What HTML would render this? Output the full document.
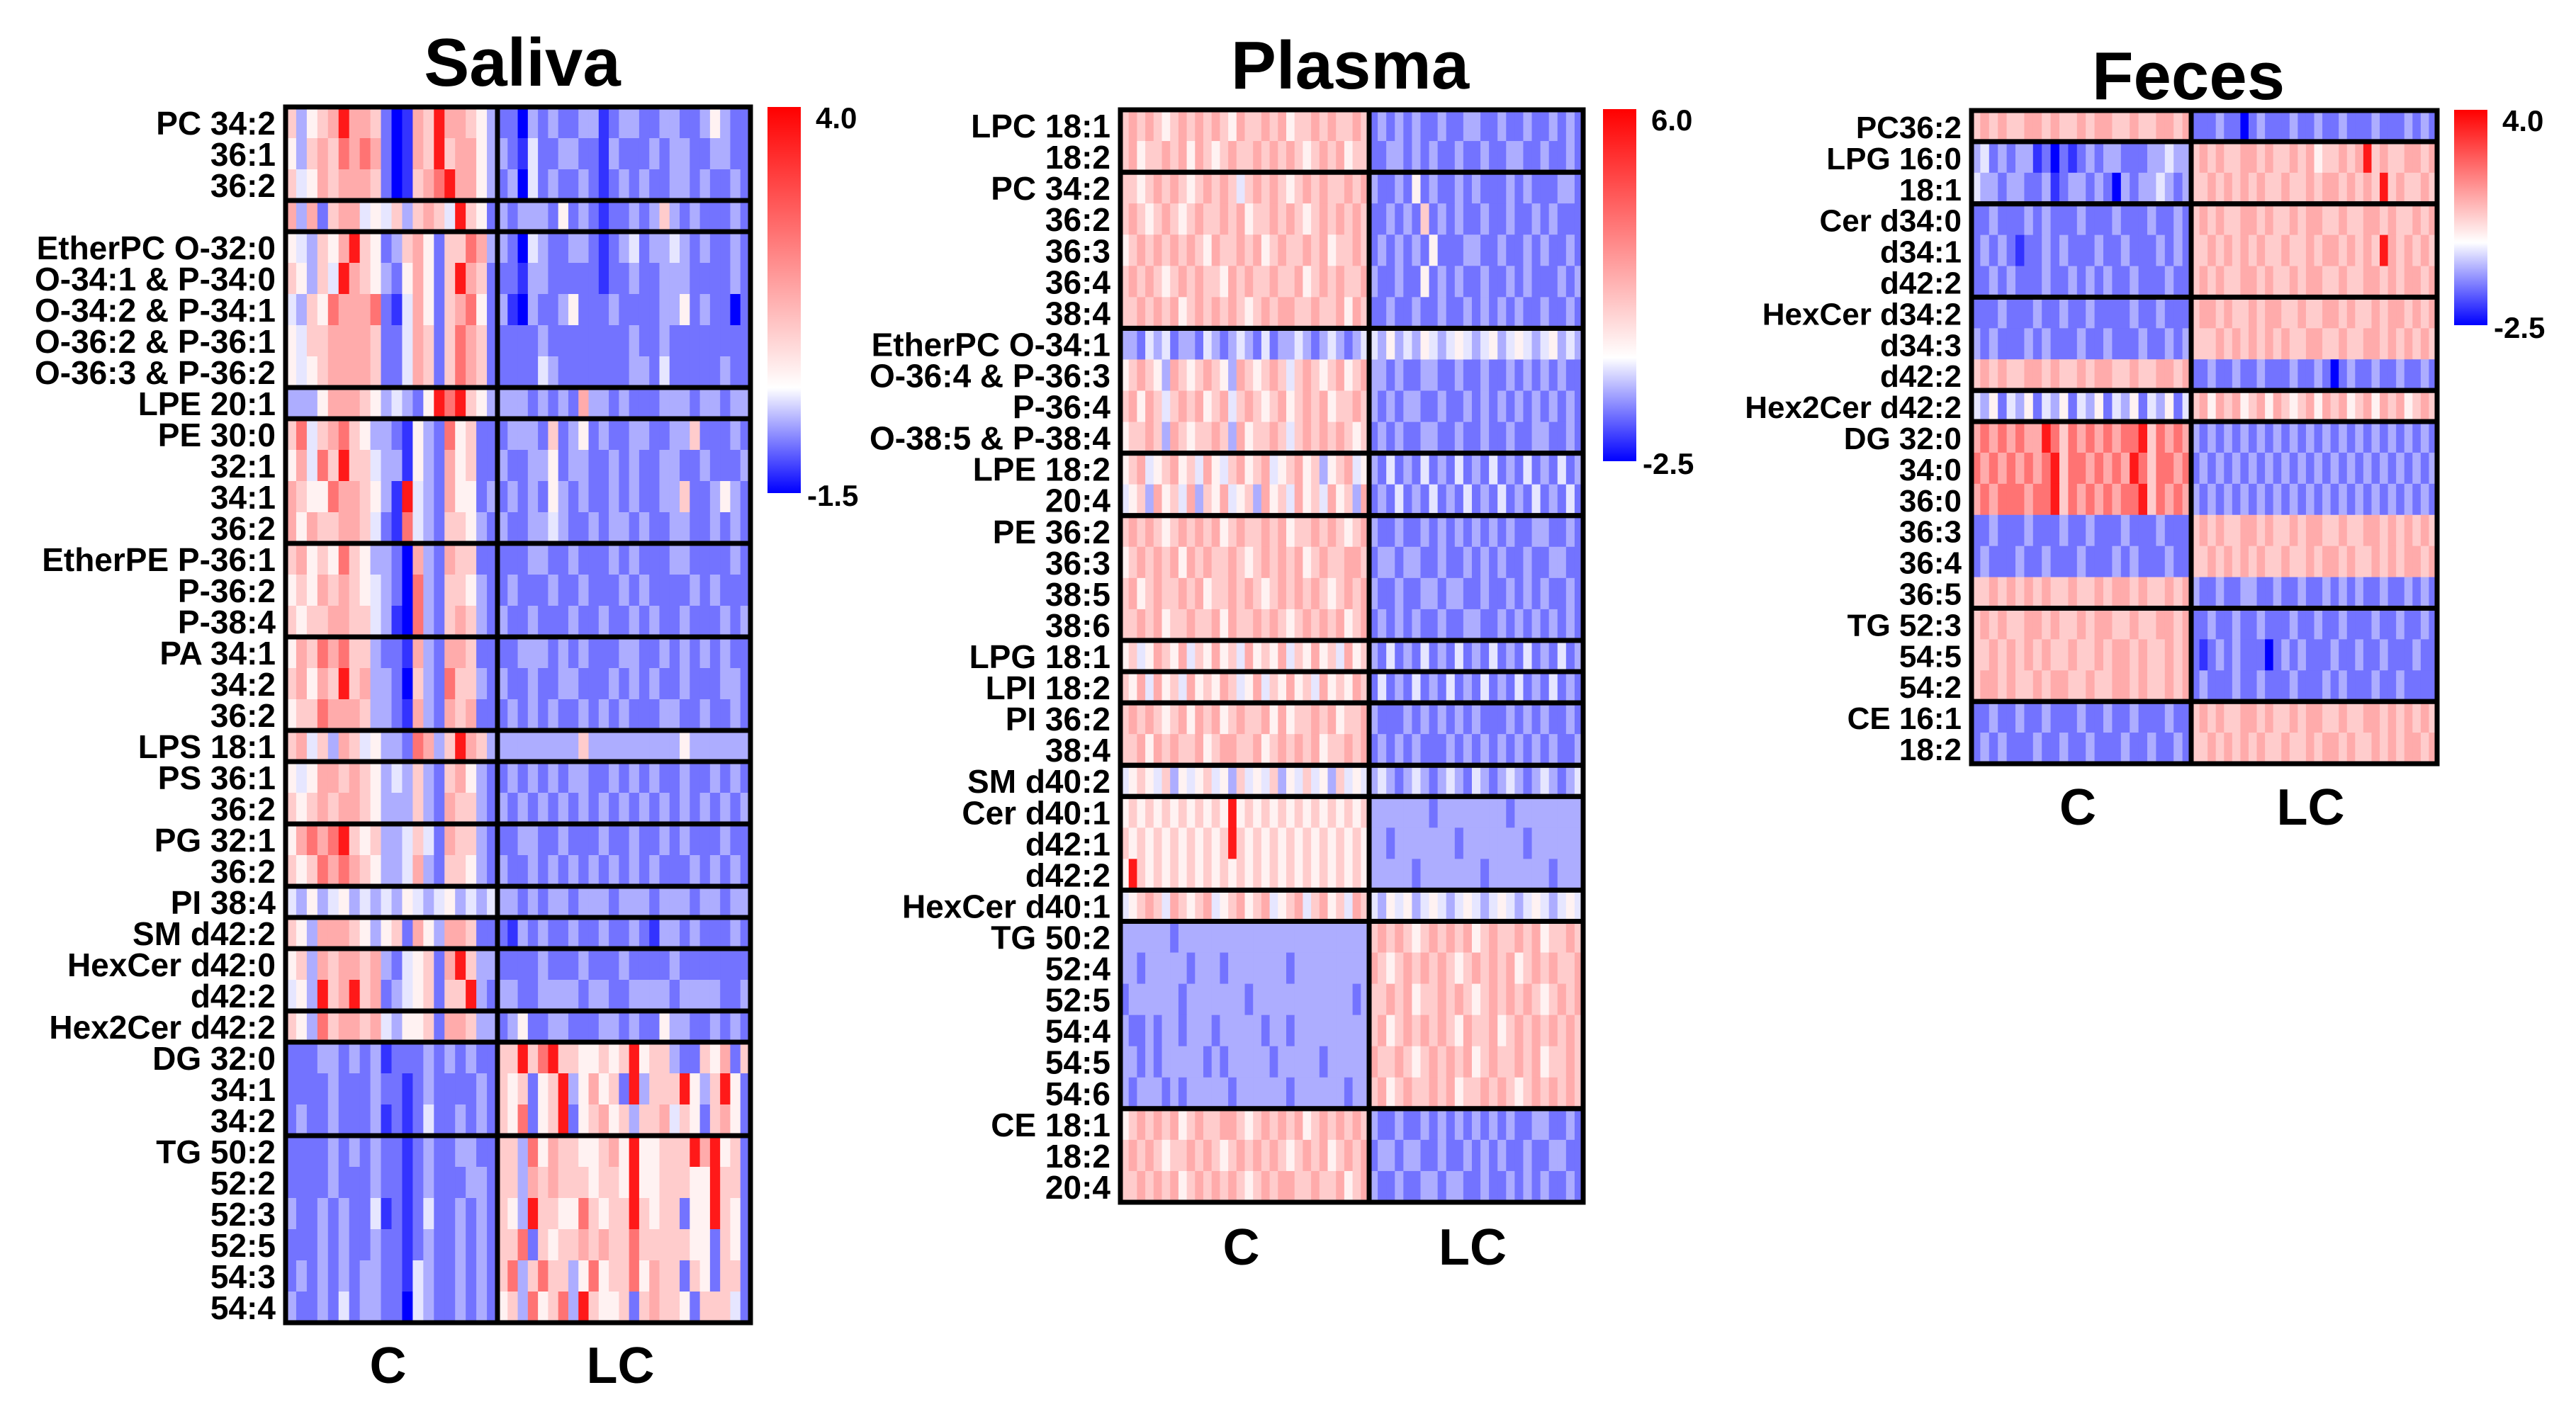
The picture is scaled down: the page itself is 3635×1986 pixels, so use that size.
<!DOCTYPE html>
<html><head><meta charset="utf-8"><style>
html,body{margin:0;padding:0;background:#fff;}
svg{display:block;}
text{font-family:"Liberation Sans",Arial,sans-serif;font-weight:bold;fill:#000;}
</style></head>
<body>
<svg id="chart" width="3635" height="1986" viewBox="0 0 3635 1986" xmlns="http://www.w3.org/2000/svg"></svg>
<script>
// ===== data: level codes per cell (0 strongest blue ... 9 strongest red); C group | LC group =====
const levelFractions = [-1, -0.8, -0.55, -0.32, -0.1, 0.05, 0.2, 0.33, 0.55, 0.9];

const salivaLabels = ["PC 34:2","36:1","36:2","","EtherPC O-32:0","O-34:1 & P-34:0","O-34:2 & P-34:1","O-36:2 & P-36:1","O-36:3 & P-36:2","LPE 20:1","PE 30:0","32:1","34:1","36:2","EtherPE P-36:1","P-36:2","P-38:4","PA 34:1","34:2","36:2","LPS 18:1","PS 36:1","36:2","PG 32:1","36:2","PI 38:4","SM d42:2","HexCer d42:0","d42:2","Hex2Cer d42:2","DG 32:0","34:1","34:2","TG 50:2","52:2","52:3","52:5","54:3","54:4"];
const salivaGroups = [3,1,5,1,4,3,3,1,2,2,1,1,2,1,3,6];
const salivaRange = [-1.5, 4.0];
const salivaC = [
"63567 97762 01769 77653","53676 87872 01769 67753","64576 77762 01678 97753",
"73726 77454 63676 49652",
"54365 79652 36752 66873","65364 97653 25752 69762","43658 77782 14752 67852","54667 77762 24762 68762","54567 77762 24762 68762",
"33357 77653 43259 89653",
"68467 86533 21532 85622","57486 96643 31532 75622","76558 77653 19432 75523","75766 77642 18432 66532",
"67565 86533 20732 76622","56576 76543 20832 66532","65667 76643 10832 67632",
"57687 86632 21732 77622","67576 96733 20632 86632","56687 77633 21732 76722",
"67463 76453 32873 69763",
"54577 67653 43632 67532","65676 77653 33632 76632",
"57878 96563 34642 76632","65687 87653 34732 66532",
"43534 53434 35434 53434",
"65377 76535 62753 77622",
"56376 77673 24562 79633","45396 79672 34562 66932",
"65386 77674 35562 77633",
"22233 23231 22232 32322","22223 22232 21232 22232","23223 22231 21242 23232",
"22223 23232 21232 23322","22223 22232 21232 22332","32232 32241 21242 23232","22232 32232 21232 23232","23232 32332 21432 23232","32232 42332 20432 23232"];
const salivaLC = [
"22032 32233 12332 23322 35322","32142 23322 13222 32332 23322","23042 32232 12323 22332 32232",
"32333 25232 12232 36323 22232",
"32043 22332 12342 33432 32232","22133 22222 12232 23332 22232","31032 23522 23222 23352 32202","22223 22222 22232 23222 22222","22224 32222 22233 24222 22322",
"33323 23273 32322 23332 33233",
"23332 62352 32233 22336 22232","32233 52332 23232 23322 32223","23232 53232 23232 23362 23532","32233 43223 23323 22332 23232",
"22233 22322 23232 22332 22232","23222 32232 22323 22223 23222","32232 22322 32232 32232 22323",
"22333 23232 22332 23232 32322","32232 23322 23232 32232 22332","23232 32232 32322 23322 32232",
"33333 33363 33333 33353 33333",
"23232 32332 23232 32232 23232","32323 23232 32323 23232 32323",
"22332 23222 32232 23232 22322","32232 32323 23232 32223 23232",
"33232 33233 32333 23332 33233",
"21323 22322 32232 13323 22232",
"22223 22232 22322 22322 22222","33223 33323 32233 33233 33223",
"23522 33222 33232 25332 23232",
"66968 96655 65695 66322 65726","65625 69357 56293 66695 36952","65825 69256 75636 67465 26752",
"66385 76655 67595 56669 79562","66376 76665 66595 56665 59662","65396 65586 56696 56625 59652","66826 56676 76686 66665 52652","68368 66358 56685 76626 52662","56385 68396 55626 76652 66642"];

const plasmaLabels = ["LPC 18:1","18:2","PC 34:2","36:2","36:3","36:4","38:4","EtherPC O-34:1","O-36:4 & P-36:3","P-36:4","O-38:5 & P-38:4","LPE 18:2","20:4","PE 36:2","36:3","38:5","38:6","LPG 18:1","LPI 18:2","PI 36:2","38:4","SM d40:2","Cer d40:1","d42:1","d42:2","HexCer d40:1","TG 50:2","52:4","52:5","54:4","54:5","54:6","CE 18:1","18:2","20:4"];
const plasmaGroups = [2,5,4,2,4,1,1,2,1,3,1,6,3];
const plasmaRange = [-2.5, 6.0];
const plasmaC = [
"67676 56767 67657 66767 56676 76676","67566 76757 65676 67676 76567 67566",
"66567 67656 76764 67676 56767 66767","67656 76567 66767 56676 76567 67676","56767 67676 57667 67567 66767 56676","67676 56767 66576 76676 67567 67667","66767 67567 67676 56767 76676 67576",
"33243 42332 43234 32423 34323 43234","56765 37656 76537 65676 46765 67567","67576 46767 56746 76567 56767 56676","56676 37656 67637 56676 46767 67656",
"56745 67564 75467 56745 67563 56745","45637 56473 65745 63756 47564 75637",
"67676 56767 67567 66767 56676 76567","56767 67576 76676 56767 67567 66776","67567 66767 56676 76567 67676 56767","66767 56676 67576 67676 56767 67567",
"56457 65746 57564 75657 46575 64756",
"65747 56475 65764 57465 75647 56576",
"67676 56757 67567 66757 56676 75667","66757 67667 56776 67567 67675 66767",
"45654 63545 64536 45463 54645 36454",
"56565 65656 56595 65656 56565 65656","65656 56565 65696 56565 65656 56565","59656 56565 65656 56565 65656 56565",
"45676 47656 74567 56745 67467 56476",
"33333 32333 33333 33333 33333 33333","33233 33323 33233 33333 23333 33333","23333 33233 33333 23333 33333 33323","32232 33233 32333 33233 23333 33333","33232 33333 23233 33323 33332 33333","32333 23233 33323 33333 23333 33233",
"56767 67567 66776 56767 67567 67676","67676 56676 76567 67676 56767 56767","66767 67567 67676 56767 76676 67567"];
const plasmaLC = [
"23232 32232 23322 32232 23232","22332 32322 32232 23322 32232",
"32232 52322 32322 23232 22332","22323 26232 32232 23223 23222","23232 32522 23322 32232 32232","32232 25232 32232 23232 22323","22322 32232 23232 32322 32232",
"43534 35434 54345 34543 45343","33232 23322 32232 23232 32322","32323 32232 23232 32323 23232","23232 23322 32232 23223 32232",
"32423 24232 42324 23242 32423","23242 32423 24232 42324 23242",
"32232 23232 32323 23223 32232","23323 32232 23232 32232 23322","32232 23323 32232 23232 32232","23232 32232 23322 32323 23232",
"32423 24232 42324 23242 32423",
"24232 42324 23242 32423 24232",
"32223 23232 32322 23232 32232","23232 32223 23232 32323 23223",
"34323 43234 32432 34323 43234",
"33333 33233 33333 32333 33333","33233 33333 23333 33323 33333","33333 23333 33323 33333 32333",
"43545 34543 45434 54345 43454",
"67676 56767 67567 66767 56676","76567 67676 56767 67567 67667","66767 56676 76567 67676 56767","67567 67676 57667 56767 67676","76676 56767 67567 66767 56676","67567 66767 56676 76567 67676",
"32232 23232 32323 23223 32232","23323 32232 23232 32232 23322","32232 23323 32232 23232 32232"];

const fecesLabels = ["PC36:2","LPG 16:0","18:1","Cer d34:0","d34:1","d42:2","HexCer d34:2","d34:3","d42:2","Hex2Cer d42:2","DG 32:0","34:0","36:0","36:3","36:4","36:5","TG 52:3","54:5","54:2","CE 16:1","18:2"];
const fecesGroups = [1,2,3,3,1,6,3,2];
const fecesRange = [-2.5, 4.0];
const fecesC = [
"67676 67767 66767 76676 67767",
"34232 33120 21232 33222 33433","43323 32231 23323 20323 34323",
"22322 23232 22322 23222 32232","23232 12232 32223 22322 23232","22323 22232 23232 32232 22322",
"22232 22322 32232 22232 23222","32322 23232 22322 32223 22323","67676 67767 66767 76676 67767",
"43524 35243 52435 24352 43524",
"78787 87798 68787 87889 68787","87878 78789 68878 78798 68878","78788 87889 68787 87889 68787","22322 23222 32232 22322 23222","23222 32232 22322 23232 22322","66767 67676 67667 67767 66767",
"67676 67767 66767 76676 67767","66767 67676 67667 67767 66767","67767 66767 76676 67767 66767",
"22322 32232 22322 32232 22322","23232 22322 32232 22322 32232"];
const fecesLC = [
"22232 20232 22322 32232 22322 23232",
"67676 67767 66767 56676 79676 67767","66767 67676 67667 67767 67696 76676",
"67676 67767 66767 76676 67767 66767","66767 67676 67667 67767 67697 67676","67676 67767 66767 76676 67767 67767",
"67767 66767 76676 67767 66767 76767","66676 76767 67667 76676 67767 67676","22322 32232 22322 32023 22322 32232",
"67576 75675 76567 57675 67576 75676",
"32323 23232 32323 23232 32323 23232","23232 32323 23232 32323 23232 32323","32323 23232 32323 23232 32323 23232","67676 67767 66767 76676 67767 67676","66767 67676 67667 67767 66767 67767","32232 23322 32232 23232 32232 23232",
"22322 32232 22322 32232 22322 32232","21232 32220 23232 22322 32232 22322","23222 32232 22322 23232 22322 32222",
"67676 67767 66767 76676 67767 67676","66767 67676 67667 67767 66767 67767"];

// ===== rendering =====
const NS = "http://www.w3.org/2000/svg";
const svg = document.getElementById("chart");
function mk(tag, attrs, parent) {
  const el = document.createElementNS(NS, tag);
  for (const k in attrs) el.setAttribute(k, attrs[k]);
  (parent || svg).appendChild(el);
  return el;
}
function decode(str, range) {
  return str.replace(/\s/g, "").split("").map(ch => {
    const f = levelFractions[+ch];
    return f >= 0 ? f * range[1] : f * -range[0];
  });
}
function colorFor(v, range) {
  let r, g, b;
  if (v >= 0) { const t = Math.min(1, v / range[1]); r = 255; g = Math.round(255 * (1 - t)); b = g; }
  else { const t = Math.min(1, v / range[0]); b = 255; r = Math.round(255 * (1 - t)); g = r; }
  return "rgb(" + r + "," + g + "," + b + ")";
}

function heatmap(cfg) {
  const g = mk("g", {});
  
  
  const nRows = cfg.labels.length;
  const rowH = (cfg.y1 - cfg.y0) / nRows;
  const cVals = cfg.cData.map(s => decode(s, cfg.range));
  const lVals = cfg.lcData.map(s => decode(s, cfg.range));
  const nC = cVals[0].length, nL = lVals[0].length;
  const cw = (cfg.xd - cfg.x0) / nC, lw = (cfg.x1 - cfg.xd) / nL;
  const yScale = i => cfg.y0 + i * rowH;
  const xC = j => cfg.x0 + j * cw;
  const xL = j => cfg.xd + j * lw;
  for (let i = 0; i < nRows; i++) {
    cVals[i].forEach((v, j) => {
      const c = mk("rect", {x: xC(j), y: yScale(i), width: cw + 0.6, height: rowH + 0.6, fill: colorFor(v, cfg.range)}, g);
      
      
    });
    lVals[i].forEach((v, j) => {
      const c = mk("rect", {x: xL(j), y: yScale(i), width: lw + 0.6, height: rowH + 0.6, fill: colorFor(v, cfg.range)}, g);
      
      
    });
    const t = mk("text", {x: cfg.x0 - 14, y: yScale(i) + rowH / 2 + 17, "text-anchor": "end", "font-size": cfg.fs}, g);
    t.textContent = cfg.labels[i];
    
    
  }
  let r = 0;
  cfg.groups.forEach(n => {
    const b = mk("rect", {x: cfg.x0, y: yScale(r), width: cfg.x1 - cfg.x0, height: n * rowH, fill: "none", stroke: "#000", "stroke-width": 7}, g);
    
    
    r += n;
  });
  const dv = mk("line", {x1: cfg.xd, x2: cfg.xd, y1: cfg.y0, y2: cfg.y1, stroke: "#000", "stroke-width": 7}, g);
  
  
  const tt = mk("text", {x: cfg.tx, y: cfg.ty, "text-anchor": "middle", "font-size": 96}, g);
  tt.textContent = cfg.title;
  
  
  [["C", (cfg.x0 + cfg.xd) / 2 - 5], ["LC", (cfg.xd + cfg.x1) / 2 - 5]].forEach(([lab, x]) => {
    const xl = mk("text", {x: x, y: cfg.ly, "text-anchor": "middle", "font-size": 72}, g);
    xl.textContent = lab;
    
    
  });
  const gid = cfg.name + "-grad";
  const defs = mk("defs", {}, g);
  const lg = mk("linearGradient", {id: gid, x1: 0, y1: 0, x2: 0, y2: 1}, defs);
  const wp = cfg.range[1] / (cfg.range[1] - cfg.range[0]);
  mk("stop", {offset: 0, "stop-color": "rgb(255,0,0)"}, lg);
  mk("stop", {offset: wp, "stop-color": "rgb(255,255,255)"}, lg);
  mk("stop", {offset: 1, "stop-color": "rgb(0,0,255)"}, lg);
  const cb = mk("rect", {x: cfg.cbx, y: cfg.cby0, width: 47, height: cfg.cby1 - cfg.cby0, fill: "url(#" + gid + ")"}, g);
  
  
  const mx = mk("text", {x: cfg.cbx + 68, y: cfg.cby0 + 30, "font-size": 42}, g);
  mx.textContent = cfg.range[1].toFixed(1);
  
  
  const mn = mk("text", {x: cfg.cbx + 56, y: cfg.cby1 + 18, "font-size": 42}, g);
  mn.textContent = cfg.range[0].toFixed(1);
  
  
}

heatmap({name: "saliva", title: "Saliva", labels: salivaLabels, groups: salivaGroups, range: salivaRange,
  cData: salivaC, lcData: salivaLC, x0: 403, xd: 702, x1: 1059, y0: 151, y1: 1867, fs: 46,
  tx: 737, ty: 121, ly: 1952, cbx: 1083, cby0: 151, cby1: 696});
heatmap({name: "plasma", title: "Plasma", labels: plasmaLabels, groups: plasmaGroups, range: plasmaRange,
  cData: plasmaC, lcData: plasmaLC, x0: 1581, xd: 1932, x1: 2234, y0: 155, y1: 1697, fs: 46,
  tx: 1905, ty: 125, ly: 1785, cbx: 2262, cby0: 154, cby1: 651});
heatmap({name: "feces", title: "Feces", labels: fecesLabels, groups: fecesGroups, range: fecesRange,
  cData: fecesC, lcData: fecesLC, x0: 2782, xd: 3092, x1: 3439, y0: 156, y1: 1078, fs: 44,
  tx: 3088, ty: 140, ly: 1164, cbx: 3463, cby0: 155, cby1: 459});
</script>
</body></html>
